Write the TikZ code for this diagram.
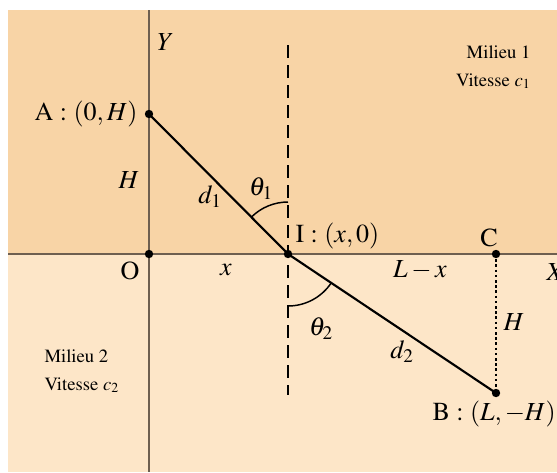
\documentclass[tikz,border=0pt]{standalone}
\usepackage[T1]{fontenc}
\usepackage{mathptmx}

\tikzset{every picture/.style={line width=0.75pt}}
\tikzset{
  milieuhaut/.style={fill={rgb, 255:red, 248; green, 212; blue, 166}},
  milieubas/.style={fill={rgb, 255:red, 253; green, 230; blue, 200}},
  axe/.style={color={rgb, 255:red, 110; green, 95; blue, 80}, line width=0.9},
  rayon/.style={line width=1.6},
  normale/.style={line width=1.6, dash pattern=on 10 off 5},
  point/.style={fill=black},
  lbl/.style={inner sep=0.75pt, font=\fontsize{19.5}{23}\selectfont},
  milieu/.style={inner sep=0.75pt, font=\fontsize{14}{21}\selectfont}
}

\begin{document}
\begin{tikzpicture}[x=0.75pt,y=0.75pt,yscale=-1,xscale=1]
\useasboundingbox (0,0) rectangle (557,472);

%Shape: Rectangle [milieu 1]
\fill [milieuhaut] (8,10) rectangle (557,254);
%Shape: Rectangle [milieu 2]
\fill [milieubas] (8,254) rectangle (557,472);

% points
\coordinate (O) at (149,254);
\coordinate (A) at (149,114);
\coordinate (I) at (288,254);
\coordinate (C) at (496,254);
\coordinate (B) at (496,393);
\coordinate (Nhaut) at (288,45);
\coordinate (Nbas) at (288,395);
\coordinate (Xg) at (8,254);
\coordinate (Xd) at (557,254);
\coordinate (Yh) at (149,10);
\coordinate (Yb) at (149,472);

%Axes
\draw [axe] (Xg) -- (Xd);
\draw [axe] (Yh) -- (Yb);

%Normale
\draw [normale] (Nhaut) -- (Nbas);

%Rayon
\draw [rayon] (A) -- (I) -- (B);
\draw [line width=1.9, dotted] (C) -- (B);

%Arcs
\draw [line width=1.1] ([shift={(270:52)}]I) arc [start angle=270, end angle=225.2, radius=52];
\draw [line width=1.1] ([shift={(90:52)}]I) arc [start angle=90, end angle=33.6, radius=52];

%Points
\fill [point] (A) circle [radius=4.2];
\fill [point] (O) circle [radius=4.2];
\fill [point] (I) circle [radius=4.2];
\fill [point] (C) circle [radius=4.2];
\fill [point] (B) circle [radius=4.2];

% Text Node
\node [lbl, anchor=west] (Ylab) at (156,42) {$Y$};
% Text Node
\node [lbl, anchor=east] (Alab) at (139,114) {A : $(0,H)$};
% Text Node
\node [lbl] (Hg) at (129,180) {$H$};
% Text Node
\node [lbl] (d1) at (210,197) {$d_1$};
% Text Node
\node [lbl] (t1) at (261,189) {$\theta_1$};
% Text Node
\node [lbl] (Olab) at (130,271) {O};
% Text Node
\node [lbl] (xlab) at (226,270) {$x$};
% Text Node
\node [lbl, anchor=west] (Ilab) at (294,236) {I : $(x,0)$};
% Text Node
\node [lbl] (Clab) at (489,238) {C};
% Text Node
\node [lbl] (Lx) at (420,270) {$L-x$};
% Text Node
\node [lbl, anchor=west] (Xlab) at (545,272) {$X$};
% Text Node
\node [lbl] (t2) at (321,329) {$\theta_2$};
% Text Node
\node [lbl] (d2) at (402,352) {$d_2$};
% Text Node
\node [lbl, anchor=west] (Hd) at (502,322) {$H$};
% Text Node
\node [lbl, anchor=west] (Blab) at (431,414) {B : $(L,-H)$};
% Text Node
\node [milieu, anchor=north east, align=right] (M1) at (532,44) {Milieu 1\\Vitesse $c_1$};
% Text Node
\node [milieu, anchor=north west, align=left] (M2) at (43,348) {Milieu 2\\Vitesse $c_2$};

\end{tikzpicture}
\end{document}
